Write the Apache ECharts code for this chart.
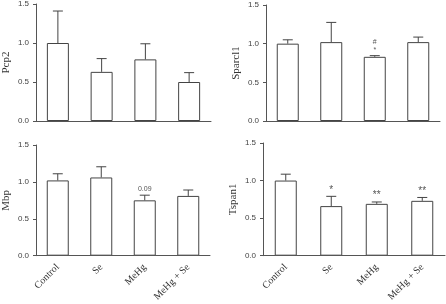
<!DOCTYPE html>
<html>
<head>
<meta charset="utf-8">
<script src="https://cdn.jsdelivr.net/npm/echarts@6/dist/echarts.min.js"></script>
<style>
  html, body { margin: 0; padding: 0; background: #fff; }
  #chart { width: 446px; height: 304px; }
</style>
</head>
<body>
<div id="chart"></div>
<script>
const groups = ['Control', 'Se', 'MeHg', 'MeHg + Se'];
const yTicks = [0, 0.5, 1.0, 1.5];

// mean values and SEM (upper error only)
const pcp2 = [1.0, 0.63, 0.79, 0.50];
const pcp2Err = [0.41, 0.17, 0.20, 0.12];
const pcp2Marks = ['', '', '', ''];

const sparcl1 = [1.0, 1.02, 0.83, 1.02];
const sparcl1Err = [0.05, 0.255, 0.015, 0.065];
const sparcl1Marks = ['', '', '#\n*', ''];

const mbp = [1.02, 1.06, 0.75, 0.81];
const mbpErr = [0.09, 0.145, 0.07, 0.08];
const mbpMarks = ['', '', '0.09', ''];

const tspan1 = [1.0, 0.66, 0.69, 0.73];
const tspan1Err = [0.085, 0.13, 0.025, 0.045];
const tspan1Marks = ['', '*', '**', '**'];

const panels = [
  { name: 'Pcp2', vals: pcp2, err: pcp2Err, marks: pcp2Marks, grid: { left: 33, top: 4, width: 178, height: 117 }, labels: false },
  { name: 'Sparcl1', vals: sparcl1, err: sparcl1Err, marks: sparcl1Marks, grid: { left: 266, top: 5, width: 174, height: 116 }, labels: false },
  { name: 'Mbp', vals: mbp, err: mbpErr, marks: mbpMarks, grid: { left: 33, top: 145, width: 177, height: 117 }, labels: true },
  { name: 'Tspan1', vals: tspan1, err: tspan1Err, marks: tspan1Marks, grid: { left: 263, top: 143, width: 182, height: 119 }, labels: true }
];

const chart = echarts.init(document.getElementById('chart'));

const grid = [], xAxis = [], yAxis = [], series = [];
panels.forEach((p, i) => {
  grid.push(p.grid);
  xAxis.push({
    type: 'category',
    gridIndex: i,
    data: groups,
    axisLine: { lineStyle: { color: '#555', width: 1 } },
    axisTick: { show: false },
    axisLabel: {
      show: p.labels,
      rotate: 45,
      margin: 10,
      interval: 0,
      fontFamily: 'Liberation Serif',
      fontSize: 10,
      color: '#333'
    }
  });
  yAxis.push({
    type: 'value',
    gridIndex: i,
    min: 0,
    max: 1.5,
    interval: 0.5,
    name: p.name,
    nameLocation: 'middle',
    nameGap: 24,
    nameTextStyle: { fontFamily: 'Liberation Serif', fontSize: 11, color: '#333' },
    axisLine: { show: true, lineStyle: { color: '#555', width: 1 } },
    axisTick: { show: true, length: 3, lineStyle: { color: '#555' } },
    splitLine: { show: false },
    axisLabel: {
      margin: 7,
      fontFamily: 'Liberation Sans',
      fontSize: 8,
      color: '#444',
      formatter: v => v.toFixed(1)
    }
  });
  series.push({
    type: 'bar',
    xAxisIndex: i,
    yAxisIndex: i,
    data: p.vals,
    barWidth: 22,
    itemStyle: { color: '#fff', borderColor: '#444', borderWidth: 1 },
    silent: true
  });
  series.push({
    type: 'custom',
    xAxisIndex: i,
    yAxisIndex: i,
    z: 5,
    silent: true,
    data: p.vals.map((v, k) => [k, v, p.err[k]]),
    renderItem: function (params, api) {
      const x = api.value(0), v = api.value(1), e = api.value(2);
      const base = api.coord([x, v]);
      const top = api.coord([x, v + e]);
      const mark = p.marks[params.dataIndex];
      const style = { stroke: '#444', lineWidth: 1 };
      const children = [
        { type: 'line', shape: { x1: base[0], y1: base[1], x2: top[0], y2: top[1] }, style: style },
        { type: 'line', shape: { x1: top[0] - 5, y1: top[1], x2: top[0] + 5, y2: top[1] }, style: style }
      ];
      if (mark) {
        const small = mark === '0.09' || mark.indexOf('#') >= 0;
        children.push({
          type: 'text',
          x: top[0],
          y: top[1] - 2,
          style: {
            text: mark,
            align: 'center',
            verticalAlign: 'bottom',
            fontFamily: 'Liberation Sans',
            fontSize: small ? 7 : 10,
            lineHeight: small ? 8 : 9,
            fill: '#555'
          }
        });
      }
      return { type: 'group', children: children };
    }
  });
});

chart.setOption({
  animation: false,
  grid: grid,
  xAxis: xAxis,
  yAxis: yAxis,
  series: series
});
</script>
</body>
</html>
